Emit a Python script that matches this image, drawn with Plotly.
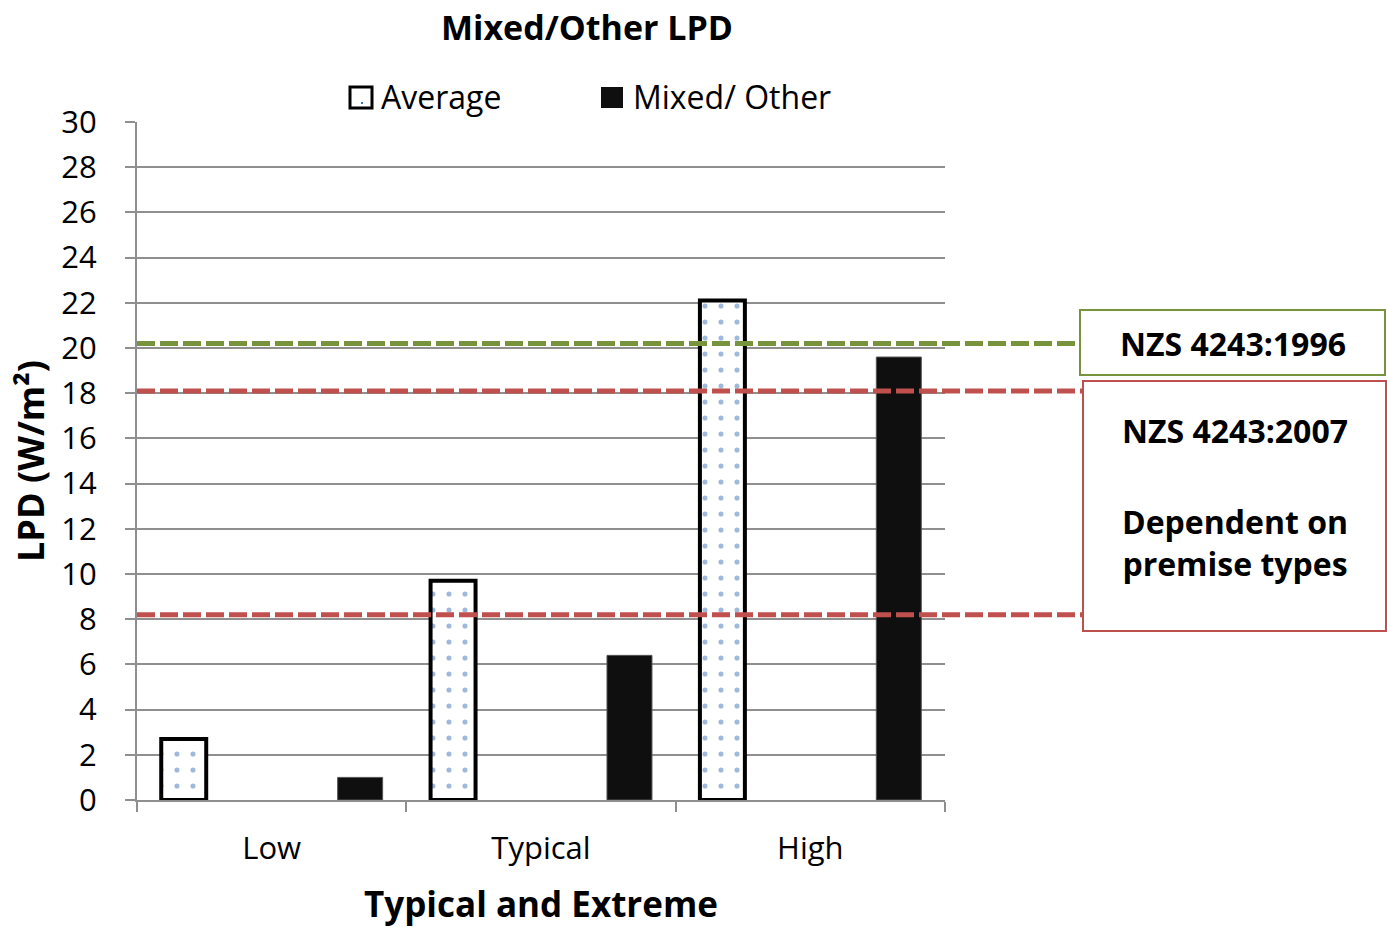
import plotly.graph_objects as go

categories = ["Low", "Typical", "High"]
average_lpd = [2.7, 9.7, 22.1]
mixed_other_lpd = [1.0, 6.4, 19.6]

nzs_1996_limit = 20.2
nzs_2007_upper = 18.1
nzs_2007_lower = 8.2

FONT = "Open Sans"
GREEN = "#77933c"
RED = "#c0504d"
GRID = "#8f8f8f"
DOT_BLUE = "#3f74b8"
BAR_BLACK = "#0f0f0f"

W, H = 1387, 927
L, R, T, B = 137, 1387 - 945, 122, 927 - 800
plot_w = W - L - R
plot_h = H - T - B


def px_x(px):
    return (px - L) / plot_w


def px_y(py):
    return (H - B - py) / plot_h


fig = go.Figure()

fig.add_trace(go.Bar(
    name="Average",
    x=categories,
    y=average_lpd,
    width=0.167,
    offset=-0.41,
    showlegend=False,
    marker=dict(
        color="white",
        line=dict(color="black", width=4),
        pattern=dict(shape=".", fgcolor=DOT_BLUE, bgcolor="white",
                     size=16, solidity=0.08, fillmode="overlay"),
    ),
))

fig.add_trace(go.Bar(
    name="Mixed/ Other",
    x=categories,
    y=mixed_other_lpd,
    width=0.167,
    offset=0.245,
    showlegend=False,
    marker=dict(color=BAR_BLACK, line=dict(color="#555555", width=1)),
))

# Standard reference lines, running past the plot into the label boxes
dash_lines = [
    (nzs_1996_limit, GREEN, 1080),
    (nzs_2007_upper, RED, 1083),
    (nzs_2007_lower, RED, 1083),
]
for yv, col, x_end in dash_lines:
    fig.add_shape(type="line", xref="paper", yref="y",
                  x0=0, x1=px_x(x_end), y0=yv, y1=yv,
                  line=dict(color=col, width=5, dash="18px,5px"),
                  layer="above")

# Label boxes
fig.add_shape(type="rect", xref="paper", yref="paper",
              x0=px_x(1080), x1=px_x(1385), y0=px_y(375), y1=px_y(310),
              line=dict(color=GREEN, width=2), fillcolor="white", layer="above")
fig.add_shape(type="rect", xref="paper", yref="paper",
              x0=px_x(1083), x1=px_x(1386), y0=px_y(631), y1=px_y(381),
              line=dict(color=RED, width=2), fillcolor="white", layer="above")

box_font = dict(family=FONT, size=32, color="black", weight="bold")
box_labels = [
    ("NZS 4243:1996", 1233, 343),
    ("NZS 4243:2007", 1235, 430),
    ("Dependent on<br>premise types", 1235, 542),
]
for text, bx, by in box_labels:
    fig.add_annotation(xref="paper", yref="paper", x=px_x(bx), y=px_y(by),
                       xanchor="center", yanchor="middle",
                       text=text, showarrow=False, font=box_font)

# Chart title
fig.add_annotation(xref="paper", yref="paper", x=px_x(587), y=px_y(2),
                   xanchor="center", yanchor="top",
                   text="Mixed/Other LPD", showarrow=False,
                   font=dict(family=FONT, size=34, color="black", weight="bold"))

# Legend, drawn as swatches with labels
fig.add_shape(type="rect", xref="paper", yref="paper",
              x0=px_x(350), x1=px_x(372), y0=px_y(108), y1=px_y(87),
              line=dict(color="black", width=3), fillcolor="white")
fig.add_shape(type="rect", xref="paper", yref="paper",
              x0=px_x(361), x1=px_x(363), y0=px_y(104), y1=px_y(102),
              line=dict(width=0), fillcolor=DOT_BLUE)
fig.add_shape(type="rect", xref="paper", yref="paper",
              x0=px_x(601), x1=px_x(623), y0=px_y(108), y1=px_y(87),
              line=dict(width=0), fillcolor=BAR_BLACK)
legend_font = dict(family=FONT, size=32, color="black")
for text, lx in [("Average", 379), ("Mixed/ Other", 631)]:
    fig.add_annotation(xref="paper", yref="paper", x=px_x(lx), y=px_y(97),
                       xanchor="left", yanchor="middle",
                       text=text, showarrow=False, font=legend_font)

fig.update_layout(
    width=W, height=H,
    margin=dict(l=L, r=R, t=T, b=B),
    paper_bgcolor="white",
    plot_bgcolor="white",
    barmode="overlay",
    showlegend=False,
    font=dict(family=FONT, color="black"),
    xaxis=dict(
        automargin=False,
        showgrid=False,
        showline=True, linecolor=GRID, linewidth=2,
        ticks="outside", tickson="boundaries", ticklen=10,
        tickcolor=GRID, tickwidth=2,
        tickfont=dict(family=FONT, size=31, color="black"),
        ticklabelstandoff=20,
        title=dict(text="Typical and Extreme", standoff=26,
                   font=dict(family=FONT, size=35, color="black", weight="bold")),
        range=[-0.5, 2.5],
    ),
    yaxis=dict(
        automargin=False,
        range=[0, 30],
        tickvals=list(range(0, 31, 2)),
        showgrid=True, gridcolor=GRID, gridwidth=2,
        showline=True, linecolor=GRID, linewidth=2,
        ticks="outside", ticklen=10, tickcolor=GRID, tickwidth=2,
        tickfont=dict(family=FONT, size=31, color="black"),
        ticklabelstandoff=22,
        zeroline=False,
        title=dict(text="LPD (W/m²)", standoff=6,
                   font=dict(family=FONT, size=36, color="black", weight="bold")),
    ),
)

fig.write_html("out.html")
